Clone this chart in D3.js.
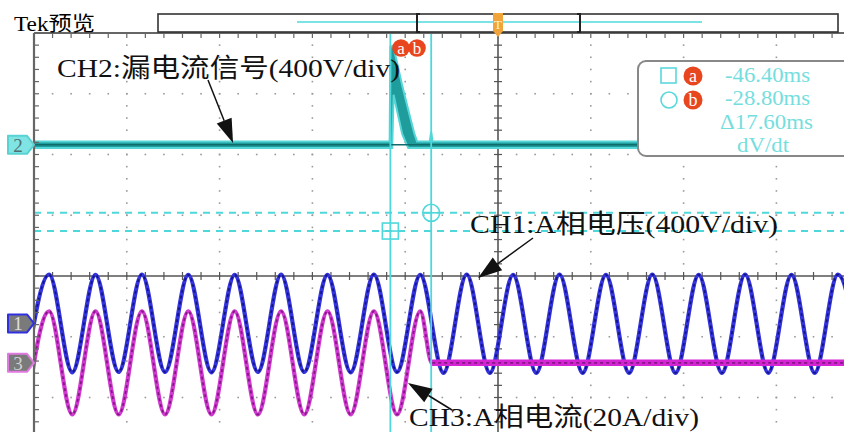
<!DOCTYPE html>
<html>
<head>
<meta charset="utf-8">
<script src="https://cdn.jsdelivr.net/npm/d3@7"></script>
<style>
  body { margin: 0; background: #fff; }
  text { font-family: "Liberation Serif", "Noto Sans CJK SC", serif; }
</style>
</head>
<body>
<div class="scopeDiv"></div>
<script>
"use strict"

//
/* data read from the screen */
//
// CH1 (A phase voltage, V): time (ms) of every half-cycle extreme and its value
var ch1Time = [-203.5, -193.5, -183.5, -173.5, -163.5, -153.5, -143.5, -133.5, -123.5, -113.5,
               -103.5, -93.5, -83.5, -73.5, -63.5, -53.5, -43.5, -33.5, -23.5, -13.5,
               -3.5, 6.5, 16.5, 26.5, 36.5, 46.5, 56.5, 66.5, 76.5, 86.5,
               96.5, 106.5, 116.5, 126.5, 136.5, 146.5, 156.5];
var ch1Volts = [-320, 322, -322, 320, -320, 322, -320, 320, -322, 320,
                -320, 322, -320, 320, -322, 322, -320, 320, -326, 322,
                -326, 320, -326, 322, -326, 320, -326, 322, -326, 320,
                -326, 322, -326, 320, -326, 322, -326];

// CH3 (A phase current, A): extremes until the breaker opens, then zero
var ch3Time = [-203.5, -193.5, -183.5, -173.5, -163.5, -153.5, -143.5, -133.5, -123.5, -113.5,
               -103.5, -93.5, -83.5, -73.5, -63.5, -53.5, -43.5, -33.5, -28.5, 200];
var ch3Amps = [-17, 17, -17, 17, -17, 17, -17, 17, -17, 17,
               -17, 17, -17, 17, -17, 17, -17, 17, 0, 0];

// CH2 (leakage signal, V): envelope max / min
var ch2Time = [-200, -46.7, -46.4, -45.6, -45.0, -41.3, -38.7, -36.1, -34.9, -29.4, -28.8, -28.2, 200];
var ch2Max  = [22, 22, 645, 650, 640, 390, 230, 75, 22, 22, 85, 22, 22];
var ch2Min  = [-22, -22, -22, -22, 330, 72, -22, -22, -22, -22, -22, -22, -22];

// channel settings: position (div) and units per div
var channelNames  = ["1", "2", "3"];
var channelOffset = [-0.78, 2.16, -1.43];
var channelPerDiv = [400, 400, 20];

// cursors
var cursorTimes  = [-46.4, -28.8];
var cursorNames  = ["a", "b"];
var cursorLevels = [0.74, 1.04];
var readoutText  = ["-46.40ms", "-28.80ms", "\u039417.60ms", "dV/dt"];

// annotations
var noteText    = ["CH2:漏电流信号(400V/div)", "CH1:A相电压(400V/div)", "CH3:A相电流(20A/div)"];
var noteChannel = [1, 0, 2];
var noteTime    = [-114.2, -8.6, -38.8];
var noteValue   = [12, 299, -6.6];

//
/* layout */
//
var width = 844;
var height = 432;
var plotLeft = 34, plotTop = 33;
var hDiv = 92.8, vDiv = 60.75;

var svg = d3.select(".scopeDiv").append("svg")
            .attr("width", width)
            .attr("height", height);

svg.append("rect").attr("width", width).attr("height", height).attr("fill", "#fff");

var x = d3.scaleLinear().domain([-200, 200]).range([plotLeft, plotLeft + 10 * hDiv]);
var y = d3.scaleLinear().domain([-4, 4]).range([plotTop + 8 * vDiv, plotTop]);

function chY(ch, v) { return y(channelOffset[ch] + v / channelPerDiv[ch]); }

svg.append("clipPath").attr("id", "plotClip")
   .append("rect").attr("x", plotLeft).attr("y", plotTop)
   .attr("width", width - plotLeft).attr("height", height - plotTop);

var plot = svg.append("g").attr("clip-path", "url(#plotClip)");

// graticule dots
var majorT = d3.range(-160, 200, 40).filter(function(d) { return d !== 0; });
var majorV = d3.range(-3, 4, 1).filter(function(d) { return d !== 0; });
var minorT = d3.range(-200, 200.01, 8);
var minorV = d3.range(-4, 4.001, 0.2);

var dots = plot.append("g").attr("fill", "#9a9a9a");
majorT.forEach(function(t) {
    dots.selectAll(null).data(minorV).enter().append("rect")
        .attr("x", x(t) - 0.8).attr("y", function(d) { return y(d) - 0.8; })
        .attr("width", 1.6).attr("height", 1.6);
});
majorV.forEach(function(v) {
    dots.selectAll(null).data(minorT).enter().append("rect")
        .attr("x", function(d) { return x(d) - 0.8; }).attr("y", y(v) - 0.8)
        .attr("width", 1.6).attr("height", 1.6);
});

// centre lines with ticks
var centre = plot.append("g").attr("stroke", "#555").attr("stroke-width", 1.6);
centre.append("line").attr("x1", x(0)).attr("x2", x(0)).attr("y1", y(4)).attr("y2", height);
centre.append("line").attr("x1", plotLeft).attr("x2", width).attr("y1", y(0)).attr("y2", y(0));
centre.selectAll(null).data(minorV).enter().append("line")
      .attr("x1", x(0) - 4).attr("x2", x(0) + 4)
      .attr("y1", function(d) { return y(d); }).attr("y2", function(d) { return y(d); })
      .attr("stroke-width", 1.2);
centre.selectAll(null).data(minorT).enter().append("line")
      .attr("y1", y(0) - 4).attr("y2", y(0) + 4)
      .attr("x1", function(d) { return x(d); }).attr("x2", function(d) { return x(d); })
      .attr("stroke-width", 1.2);

// border ticks
var border = svg.append("g").attr("stroke", "#666");
border.selectAll(null).data(minorV).enter().append("line")
      .attr("x1", plotLeft).attr("x2", plotLeft + 5)
      .attr("y1", function(d) { return y(d); }).attr("y2", function(d) { return y(d); })
      .attr("stroke-width", 1.2);
border.selectAll(null).data(minorT).enter().append("line")
      .attr("y1", plotTop).attr("y2", plotTop + 5)
      .attr("x1", function(d) { return x(d); }).attr("x2", function(d) { return x(d); })
      .attr("stroke-width", 1.2);
border.append("line").attr("x1", plotLeft).attr("x2", plotLeft).attr("y1", plotTop).attr("y2", height)
      .attr("stroke-width", 2.2);
border.append("line").attr("x1", plotLeft).attr("x2", width).attr("y1", plotTop).attr("y2", plotTop)
      .attr("stroke-width", 2);

// horizontal cursors
plot.selectAll(".hCursor").data(cursorLevels).enter().append("line")
    .attr("class", "hCursor")
    .attr("x1", plotLeft).attr("x2", width)
    .attr("y1", function(d) { return y(d); }).attr("y2", function(d) { return y(d); })
    .attr("stroke", "#4fd8dc").attr("stroke-width", 2)
    .attr("stroke-dasharray", "7,6");

// CH2 envelope
var ch2Data = ch2Time.map(function(t, i) { return {t: t, hi: ch2Max[i], lo: ch2Min[i]}; });
var ch2Area = d3.area()
    .x(function(d) { return x(d.t); })
    .y0(function(d) { return chY(1, d.lo); })
    .y1(function(d) { return chY(1, d.hi); });
plot.append("path").datum(ch2Data).attr("d", ch2Area)
    .attr("fill", "#1f9c9c").attr("stroke", "#56d6d6").attr("stroke-width", 2);
plot.append("line")
    .attr("x1", x.range()[0]).attr("x2", x.range()[1])
    .attr("y1", chY(1, 0)).attr("y2", chY(1, 0))
    .attr("stroke", "#106c6c").attr("stroke-width", 1.6);

// CH1 and CH3 waveforms
var ch1Data = ch1Time.map(function(t, i) { return {t: t, v: ch1Volts[i]}; });
var ch3Data = ch3Time.map(function(t, i) { return {t: t, v: ch3Amps[i]}; });

function waveLine(ch) {
    return d3.line()
        .x(function(d) { return x(d.t); })
        .y(function(d) { return chY(ch, d.v); })
        .curve(d3.curveMonotoneX);
}

plot.append("path").datum(ch1Data).attr("d", waveLine(0))
    .attr("fill", "none").attr("stroke", "#3434dc").attr("stroke-width", 4.2);
plot.append("path").datum(ch1Data).attr("d", waveLine(0))
    .attr("fill", "none").attr("stroke", "#141488").attr("stroke-width", 1.8)
    .attr("stroke-dasharray", "3,3");

plot.append("path").datum(ch3Data).attr("d", waveLine(2))
    .attr("fill", "none").attr("stroke", "#d03ad0").attr("stroke-width", 4.2);
plot.append("path").datum(ch3Data.filter(function(d) { return d.t >= -28.5; })).attr("d", waveLine(2))
    .attr("fill", "none").attr("stroke", "#d424d4").attr("stroke-width", 6.5);
plot.append("path").datum(ch3Data).attr("d", waveLine(2))
    .attr("fill", "none").attr("stroke", "#861686").attr("stroke-width", 1.8)
    .attr("stroke-dasharray", "3,3");

// vertical cursors
plot.selectAll(".vCursor").data(cursorTimes).enter().append("line")
    .attr("class", "vCursor")
    .attr("x1", function(d) { return x(d); }).attr("x2", function(d) { return x(d); })
    .attr("y1", plotTop).attr("y2", height)
    .attr("stroke", "#4fd8dc").attr("stroke-width", 1.8);

// cursor crossing markers (square on a, circle on b)
var cx0 = x(cursorTimes[0]), cy0 = y(cursorLevels[0]);
var cx1 = x(cursorTimes[1]), cy1 = y(cursorLevels[1]);
var marks = plot.append("g").attr("stroke", "#4fd8dc").attr("stroke-width", 1.6).attr("fill", "none");
marks.append("rect").attr("x", cx0 - 8).attr("y", cy0 - 8).attr("width", 16).attr("height", 16);
marks.append("line").attr("x1", cx0 - 8).attr("x2", cx0 + 8).attr("y1", cy0).attr("y2", cy0);
marks.append("circle").attr("cx", cx1).attr("cy", cy1).attr("r", 8.5);
marks.append("line").attr("x1", cx1 - 8.5).attr("x2", cx1 + 8.5).attr("y1", cy1).attr("y2", cy1);

// a / b tags on top of the screen
var tagColor = "#e8461e";
var tags = svg.append("g");
[401, 417].forEach(function(px, i) {
    tags.append("circle").attr("cx", px).attr("cy", 48).attr("r", 8.8).attr("fill", tagColor);
    tags.append("text").attr("x", px).attr("y", 54).attr("text-anchor", "middle")
        .attr("font-size", 17).attr("fill", "#fff").text(cursorNames[i]);
});

// channel position markers
var markerFill   = ["#7a7a7a", "#80e4e4", "#7a7a7a"];
var markerStroke = ["#3030e0", "#5ad2d2", "#e07ae0"];
var markerText   = ["#e0e0e0", "#4e7070", "#d0d0d0"];
channelNames.forEach(function(name, i) {
    var cy = y(channelOffset[i]);
    svg.append("path")
       .attr("d", "M8," + (cy - 9) + "L27," + (cy - 9) + "L34," + cy + "L27," + (cy + 9) + "L8," + (cy + 9) + "Z")
       .attr("fill", markerFill[i]).attr("stroke", markerStroke[i]).attr("stroke-width", 2)
       .attr("stroke-linejoin", "round");
    svg.append("text").attr("x", 18).attr("y", cy + 7).attr("text-anchor", "middle")
       .attr("font-size", 19).attr("fill", markerText[i]).text(name);
});

// header
svg.append("text").attr("x", 14).attr("y", 31).attr("font-size", 20)
   .attr("textLength", 81).attr("lengthAdjust", "spacingAndGlyphs").text("Tek预览");
var header = svg.append("g");
header.append("rect").attr("x", 158).attr("y", 14).attr("width", 680).attr("height", 18)
      .attr("fill", "#fff").attr("stroke", "#333").attr("stroke-width", 1.6);
header.append("line").attr("x1", 297).attr("x2", 702).attr("y1", 22).attr("y2", 22)
      .attr("stroke", "#4fd8dc").attr("stroke-width", 1.6);
header.append("path").attr("d", "M420,14L417,14L417,32L420,32").attr("fill", "none")
      .attr("stroke", "#222").attr("stroke-width", 2);
header.append("path").attr("d", "M577,14L580,14L580,32L577,32").attr("fill", "none")
      .attr("stroke", "#222").attr("stroke-width", 2);
header.append("path").attr("d", "M493,13L503,13L503,31L498,37L493,31Z")
      .attr("fill", "#f1a43a");
header.append("text").attr("x", 498).attr("y", 29).attr("text-anchor", "middle")
      .attr("font-size", 13).attr("fill", "#fff3d8").text("T");

// readout box
var box = svg.append("g");
box.append("rect").attr("x", 638).attr("y", 61).attr("width", 240).attr("height", 95).attr("rx", 8)
   .attr("fill", "#fff").attr("stroke", "#888").attr("stroke-width", 2);
box.append("rect").attr("x", 661).attr("y", 68).attr("width", 15).attr("height", 15)
   .attr("fill", "none").attr("stroke", "#5ad8dc").attr("stroke-width", 1.6);
box.append("circle").attr("cx", 669).attr("cy", 100).attr("r", 8)
   .attr("fill", "none").attr("stroke", "#5ad8dc").attr("stroke-width", 1.6);
[76, 100].forEach(function(cy, i) {
    box.append("circle").attr("cx", 693).attr("cy", cy).attr("r", 9.5).attr("fill", tagColor);
    box.append("text").attr("x", 693).attr("y", cy + 6).attr("text-anchor", "middle")
       .attr("font-size", 18).attr("fill", "#fff").text(cursorNames[i]);
});
var readoutX = [725, 725, 720, 737];
var readoutY = [82, 105, 129, 152];
var readoutLen = [85, 85, 93, 52];
box.selectAll(".readout").data(readoutText).enter().append("text")
   .attr("class", "readout")
   .attr("x", function(d, i) { return readoutX[i]; })
   .attr("y", function(d, i) { return readoutY[i]; })
   .attr("font-size", 21).attr("fill", "#74dede")
   .attr("textLength", function(d, i) { return readoutLen[i]; })
   .attr("lengthAdjust", "spacingAndGlyphs")
   .text(function(d) { return d; });

// annotations with arrows
var labelX = [57, 470, 409];
var labelY = [77, 233, 426];
var labelLen = [343, 308, 290];
var tailX = [208, 533, 452];
var tailY = [80, 238, 410];

function drawArrow(g, x1, y1, x2, y2) {
    var ang = Math.atan2(y2 - y1, x2 - x1), len = 24, hw = 8;
    var bx = x2 - len * Math.cos(ang), by = y2 - len * Math.sin(ang);
    g.append("line").attr("x1", x1).attr("y1", y1).attr("x2", bx).attr("y2", by)
     .attr("stroke", "#111").attr("stroke-width", 1.5);
    g.append("path")
     .attr("d", "M" + x2 + "," + y2 +
                "L" + (bx + hw * Math.sin(ang)) + "," + (by - hw * Math.cos(ang)) +
                "L" + (bx - hw * Math.sin(ang)) + "," + (by + hw * Math.cos(ang)) + "Z")
     .attr("fill", "#111");
}

var notes = svg.append("g");
noteText.forEach(function(txt, i) {
    var ch = noteChannel[i];
    drawArrow(notes, tailX[i], tailY[i], x(noteTime[i]), chY(ch, noteValue[i]));
    notes.append("text").attr("x", labelX[i]).attr("y", labelY[i])
         .attr("font-size", 26).attr("fill", "#111")
         .attr("textLength", labelLen[i]).attr("lengthAdjust", "spacingAndGlyphs")
         .text(txt);
});
</script>
</body>
</html>
